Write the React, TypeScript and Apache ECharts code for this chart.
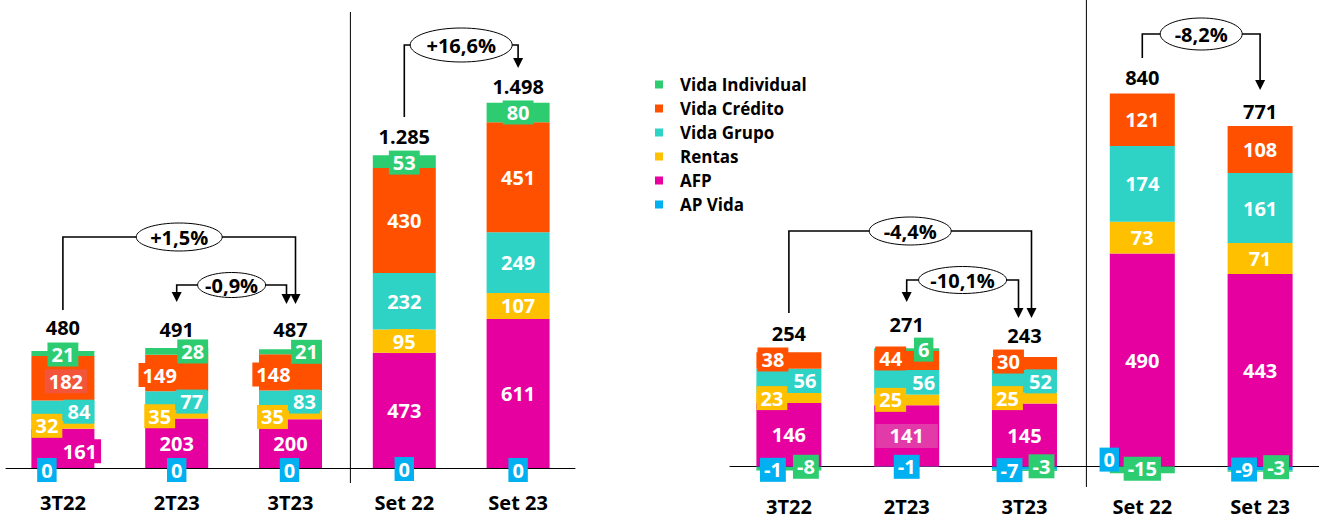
import React, { useEffect, useRef } from "react";
import * as echarts from "echarts";

const categories = ["3T22", "2T23", "3T23", "Set 22", "Set 23"];
const legendOrder = ["Vida Individual", "Vida Crédito", "Vida Grupo", "Rentas", "AFP", "AP Vida"];
const stackOrder = ["AP Vida", "AFP", "Rentas", "Vida Grupo", "Vida Crédito", "Vida Individual"];

// Left panel
const apVidaLeft = [0, 0, 0, 0, 0];
const afpLeft = [161, 203, 200, 473, 611];
const rentasLeft = [32, 35, 35, 95, 107];
const vidaGrupoLeft = [84, 77, 83, 232, 249];
const vidaCreditoLeft = [182, 149, 148, 430, 451];
const vidaIndividualLeft = [21, 28, 21, 53, 80];
const totalsLeft = [480, 491, 487, 1285, 1498];
const changesLeft = ["+1,5%", "-0,9%", "+16,6%"];

// Right panel
const apVidaRight = [-1, -1, -7, 0, -9];
const afpRight = [146, 141, 145, 490, 443];
const rentasRight = [23, 25, 25, 73, 71];
const vidaGrupoRight = [56, 56, 52, 174, 161];
const vidaCreditoRight = [38, 44, 30, 121, 108];
const vidaIndividualRight = [-8, 6, -3, -15, -3];
const totalsRight = [254, 271, 243, 840, 771];
const changesRight = ["-4,4%", "-10,1%", "-8,2%"];

const FONT = '"Open Sans", "DejaVu Sans", sans-serif';
const COLORS: Record<string, string> = {
  "AP Vida": "#00B0F0",
  AFP: "#E6009F",
  Rentas: "#FFC000",
  "Vida Grupo": "#2ED3C6",
  "Vida Crédito": "#FF5000",
  "Vida Individual": "#2ECC71",
};

const Z = [0, 0];
const labelOffsetsLeft: Record<string, number[][]> = {
  "AP Vida": [[-16, 2], [0, 2], [-1, 2], [0, 1], [0, 2]],
  AFP: [[17, 3], Z, Z, Z, Z],
  Rentas: [[-16, 1], [-17, 2], [-18, 2], Z, Z],
  "Vida Grupo": [[16, 1], [15, 1], [14, 1], Z, Z],
  "Vida Crédito": [[3, 3], [-17, 2], [-17, 2], Z, Z],
  "Vida Individual": [[0, 1], [16, 0], [16, 0], [0, 1], Z],
};
const labelOffsetsRight: Record<string, number[][]> = {
  "AP Vida": [[-16, 3], [0, 0], [-15, 2], [-33, -7], [-16, 1]],
  AFP: [Z, Z, Z, Z, Z],
  Rentas: [[-17, 0], [-16, 0], [-17, 0], Z, Z],
  "Vida Grupo": [[16, 0], [17, 0], [16, 0], Z, Z],
  "Vida Crédito": [[-16, -1], [-16, -2], [-16, -2], Z, Z],
  "Vida Individual": [[17, -2], [17, 0], [17, -4], [0, -1], [16, -4]],
};
const totalOffsetsLeft = [-5, -1, -2, -1, 2];
const totalOffsetsRight = [-1, -6, -4, 2, 3];

function fmt(n: number) {
  return String(n).replace(/\B(?=(\d{3})+(?!\d))/g, ".");
}

function buildPanel(
  gridIndex: number,
  arrays: Record<string, number[]>,
  offsets: Record<string, number[][]>,
  totals: number[],
  totalOffsets: number[],
  barWidth: number
) {
  const series: any[] = stackOrder.map((name) => ({
    name,
    type: "bar",
    xAxisIndex: gridIndex,
    yAxisIndex: gridIndex,
    stack: "s" + gridIndex,
    barWidth,
    itemStyle: { color: COLORS[name] },
    label: {
      show: true,
      position: "inside",
      color: "#fff",
      fontFamily: FONT,
      fontWeight: "bold",
      fontSize: 20,
      lineHeight: 21,
      backgroundColor: COLORS[name],
      padding: [2, 4, 1, 4],
    },
    data: arrays[name].map((v, i) => {
      const item: any = { value: v, label: { offset: offsets[name][i] } };
      if (gridIndex === 0 && name === "Vida Crédito" && i === 0) item.label.backgroundColor = "#F2553A";
      if (gridIndex === 1 && name === "AFP" && i === 1) {
        item.label.backgroundColor = "#E23BA9";
        item.label.padding = [2, 14, 1, 14];
      }
      return item;
    }),
  }));
  const tops = categories.map((_, i) =>
    stackOrder.reduce((s, n) => s + Math.max(0, arrays[n][i]), 0)
  );
  series.push({
    name: "total" + gridIndex,
    type: "scatter",
    xAxisIndex: gridIndex,
    yAxisIndex: gridIndex,
    symbolSize: 0,
    itemStyle: { color: "#000", opacity: 1 },
    silent: true,
    z: 5,
    label: {
      show: true,
      position: "top",
      distance: 8,
      color: "#000",
      opacity: 1,
      fontFamily: FONT,
      fontWeight: "bold",
      fontSize: 20,
      textBorderWidth: 0,
      formatter: (p: any) => fmt(totals[p.dataIndex]),
    },
    data: tops.map((v, i) => ({ value: v, label: { offset: [0, totalOffsets[i]] } })),
  });
  return series;
}

function buildOption() {
  const left = {
    "AP Vida": apVidaLeft,
    AFP: afpLeft,
    Rentas: rentasLeft,
    "Vida Grupo": vidaGrupoLeft,
    "Vida Crédito": vidaCreditoLeft,
    "Vida Individual": vidaIndividualLeft,
  };
  const right = {
    "AP Vida": apVidaRight,
    AFP: afpRight,
    Rentas: rentasRight,
    "Vida Grupo": vidaGrupoRight,
    "Vida Crédito": vidaCreditoRight,
    "Vida Individual": vidaIndividualRight,
  };
  const xAxisBase = (gridIndex: number, margin: number) => ({
    type: "category",
    gridIndex,
    data: categories,
    axisTick: { show: false },
    axisLine: { onZero: true, lineStyle: { color: "#000", width: 1 } },
    axisLabel: { color: "#000", fontFamily: FONT, fontWeight: "bold", fontSize: 20, margin },
  });
  return {
    animation: false,
    backgroundColor: "#fff",
    grid: [
      { left: 6, width: 569, top: 12, height: 456, outerBoundsMode: "none", containLabel: false },
      { left: 730, width: 589, top: 10, height: 474, outerBoundsMode: "none", containLabel: false },
    ],
    xAxis: [xAxisBase(0, 24), xAxisBase(1, 12)],
    yAxis: [
      { type: "value", gridIndex: 0, min: 0, max: 1870, show: false },
      { type: "value", gridIndex: 1, min: -40, max: 1050, show: false },
    ],
    legend: {
      orient: "vertical",
      left: 655,
      top: 76,
      padding: 0,
      itemWidth: 8,
      itemHeight: 8,
      itemGap: 7,
      icon: "rect",
      selectedMode: false,
      data: legendOrder,
      textStyle: {
        color: "#000",
        fontFamily: FONT,
        fontWeight: "bold",
        fontSize: 17,
        lineHeight: 17,
        padding: [0, 0, 0, 12],
      },
    },
    series: [
      ...buildPanel(0, left, labelOffsetsLeft, totalsLeft, totalOffsetsLeft, 63),
      ...buildPanel(1, right, labelOffsetsRight, totalsRight, totalOffsetsRight, 65),
    ],
  };
}

type Bracket = {
  axis: number;
  from: number;
  to: number;
  dx1: number;
  dx2: number;
  yTop: number;
  start1: number;
  arrow1: boolean;
  tip2: number;
  text: string;
  rx: number;
  ry: number;
};

function buildGraphic(chart: any) {
  const cx = (axis: number, i: number) => chart.convertToPixel({ xAxisIndex: axis }, i) as number;
  const brackets: Bracket[] = [
    { axis: 0, from: 0, to: 2, dx1: 0, dx2: 5, yTop: 237, start1: 310, arrow1: false, tip2: 304, text: changesLeft[0], rx: 43, ry: 14 },
    { axis: 0, from: 1, to: 2, dx1: 0, dx2: -4, yTop: 285, start1: 302, arrow1: true, tip2: 304, text: changesLeft[1], rx: 34, ry: 12.5 },
    { axis: 0, from: 3, to: 4, dx1: 0, dx2: 0, yTop: 45, start1: 117, arrow1: false, tip2: 68, text: changesLeft[2], rx: 51, ry: 17 },
    { axis: 1, from: 0, to: 2, dx1: 0, dx2: 7, yTop: 231, start1: 313, arrow1: false, tip2: 318, text: changesRight[0], rx: 41, ry: 14 },
    { axis: 1, from: 1, to: 2, dx1: 0, dx2: -6, yTop: 280, start1: 302, arrow1: true, tip2: 318, text: changesRight[1], rx: 44, ry: 13.5 },
    { axis: 1, from: 3, to: 4, dx1: 0, dx2: 0, yTop: 34, start1: 58, arrow1: false, tip2: 90, text: changesRight[2], rx: 41, ry: 16 },
  ];
  const els: any[] = [];
  const AH = 10;
  const AW = 5;
  const lineStyle = { stroke: "#000", lineWidth: 1.6, fill: null };
  const arrow = (x: number, tip: number) => ({
    type: "polygon",
    z: 10,
    shape: { points: [[x - AW, tip - AH], [x + AW, tip - AH], [x, tip]] },
    style: { fill: "#000" },
  });
  brackets.forEach((b) => {
    const x1 = cx(b.axis, b.from) + b.dx1;
    const x2 = cx(b.axis, b.to) + b.dx2;
    const y1 = b.arrow1 ? b.start1 - AH + 1 : b.start1;
    els.push({
      type: "polyline",
      z: 10,
      shape: { points: [[x1, y1], [x1, b.yTop], [x2, b.yTop], [x2, b.tip2 - AH + 1]] },
      style: lineStyle,
    });
    if (b.arrow1) els.push(arrow(x1, b.start1));
    els.push(arrow(x2, b.tip2));
    const mx = (x1 + x2) / 2;
    els.push({
      type: "ellipse",
      z: 11,
      shape: { cx: mx, cy: b.yTop, rx: b.rx, ry: b.ry },
      style: { fill: "#fff", stroke: "#000", lineWidth: 1 },
    });
    els.push({
      type: "text",
      z: 12,
      x: mx,
      y: b.yTop,
      style: {
        text: b.text,
        fill: "#000",
        fontFamily: FONT,
        fontWeight: "bold",
        fontSize: 20,
        align: "center",
        verticalAlign: "middle",
      },
    });
  });
  const sepL = (cx(0, 2) + cx(0, 3)) / 2 + 3;
  const sepR = (cx(1, 2) + cx(1, 3)) / 2 + 3;
  els.push({ type: "line", z: 1, shape: { x1: sepL, y1: 12, x2: sepL, y2: 483 }, style: { stroke: "#000", lineWidth: 1 } });
  els.push({ type: "line", z: 1, shape: { x1: sepR, y1: 0, x2: sepR, y2: 487 }, style: { stroke: "#000", lineWidth: 1 } });
  return els;
}

export default function App() {
  const ref = useRef<HTMLDivElement>(null);
  useEffect(() => {
    const chart = echarts.init(ref.current!, null, { renderer: "svg" });
    chart.setOption(buildOption() as any);
    chart.setOption({ graphic: buildGraphic(chart) } as any);
    return () => chart.dispose();
  }, []);
  return (
    <div
      ref={ref}
      style={{ position: "fixed", left: 0, top: 0, width: 1319, height: 519, background: "#fff" }}
    />
  );
}
